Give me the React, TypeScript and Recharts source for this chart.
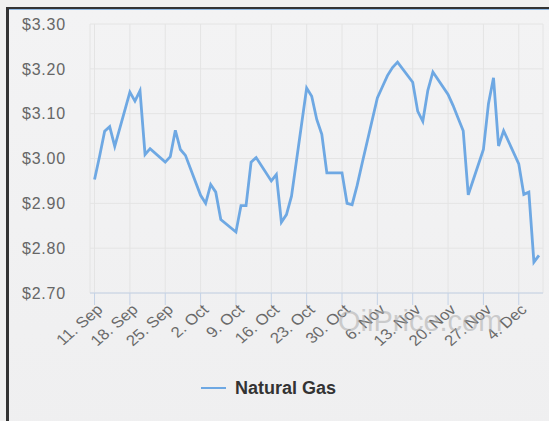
import React from 'react';
import { LineChart, Line, XAxis, YAxis, CartesianGrid, Legend } from 'recharts';

const dates: string[] = [
  '2017-09-11', '2017-09-12', '2017-09-13', '2017-09-14', '2017-09-15',
  '2017-09-18', '2017-09-19', '2017-09-20', '2017-09-21', '2017-09-22',
  '2017-09-25', '2017-09-26', '2017-09-27', '2017-09-28', '2017-09-29',
  '2017-10-02', '2017-10-03', '2017-10-04', '2017-10-05', '2017-10-06',
  '2017-10-09', '2017-10-10', '2017-10-11', '2017-10-12', '2017-10-13',
  '2017-10-16', '2017-10-17', '2017-10-18', '2017-10-19', '2017-10-20',
  '2017-10-23', '2017-10-24', '2017-10-25', '2017-10-26', '2017-10-27',
  '2017-10-30', '2017-10-31', '2017-11-01', '2017-11-02', '2017-11-03',
  '2017-11-06', '2017-11-07', '2017-11-08', '2017-11-09', '2017-11-10',
  '2017-11-13', '2017-11-14', '2017-11-15', '2017-11-16', '2017-11-17',
  '2017-11-20', '2017-11-21', '2017-11-22', '2017-11-23', '2017-11-24',
  '2017-11-27', '2017-11-28', '2017-11-29', '2017-11-30', '2017-12-01',
  '2017-12-04', '2017-12-05', '2017-12-06', '2017-12-07', '2017-12-08',
];

const naturalGas: number[] = [
  2.953, 3.005, 3.061, 3.071, 3.027,
  3.148, 3.128, 3.151, 3.009, 3.022,
  2.992, 3.004, 3.063, 3.020, 3.007,
  2.918, 2.900, 2.942, 2.925, 2.864,
  2.836, 2.895, 2.895, 2.992, 3.002,
  2.950, 2.964, 2.858, 2.875, 2.916,
  3.157, 3.139, 3.087, 3.054, 2.968,
  2.968, 2.900, 2.897, 2.940, 2.990,
  3.135, 3.160, 3.185, 3.203, 3.215,
  3.170, 3.105, 3.083, 3.152, 3.193,
  3.143, 3.118, 3.090, 3.062, 2.919,
  3.020, 3.122, 3.180, 3.028, 3.062,
  2.988, 2.920, 2.925, 2.769, 2.784,
];

const tickDates: string[] = [
  '2017-09-11', '2017-09-18', '2017-09-25', '2017-10-02', '2017-10-09',
  '2017-10-16', '2017-10-23', '2017-10-30', '2017-11-06', '2017-11-13',
  '2017-11-20', '2017-11-27', '2017-12-04',
];
const tickLabels: string[] = [
  '11. Sep', '18. Sep', '25. Sep', '2. Oct', '9. Oct', '16. Oct', '23. Oct',
  '30. Oct', '6. Nov', '13. Nov', '20. Nov', '27. Nov', '4. Dec',
];
const yTicks: number[] = [2.7, 2.8, 2.9, 3.0, 3.1, 3.2, 3.3];

const DAY = 86400000;
const base = Date.parse(tickDates[0] + 'T00:00:00Z');
const toDay = (d: string) => Math.round((Date.parse(d + 'T00:00:00Z') - base) / DAY);

const data = dates.map((d, i) => ({ day: toDay(d), value: naturalGas[i] }));
const xTicks = tickDates.map(toDay);

const FONT = '"Liberation Sans", Arial, sans-serif';

function XTick(props: any) {
  const { x, y, payload } = props;
  const idx = xTicks.indexOf(payload.value);
  return (
    <g transform={`translate(${x + 5},${y})`}>
      <text textAnchor="end" transform="scale(1.12,1) rotate(-44)" fill="#6a6a6a" fontSize={15} fontFamily={FONT} dy="0.35em">
        {idx >= 0 ? tickLabels[idx] : ''}
      </text>
    </g>
  );
}

function LegendContent() {
  return (
    <div style={{ position: 'relative', height: 40, width: 549 }}>
      <div style={{ position: 'absolute', left: 201, top: 19, width: 25, height: 2, background: '#6ea8e3' }} />
      <div style={{ position: 'absolute', left: 235, top: 9, fontFamily: FONT, fontWeight: 'bold', fontSize: 18, color: '#333333', lineHeight: '22px' }}>
        Natural Gas
      </div>
    </div>
  );
}

export default function App() {
  return (
    <div style={{ position: 'absolute', left: 0, top: 0, width: 549, height: 421, background: '#f0f0f0', overflow: 'hidden' }}>
      <div style={{ position: 'absolute', left: 6, top: 7, width: 560, height: 430, borderLeft: '3px solid #333', borderTop: '2px solid #333', background: 'linear-gradient(#f3f3f4, #efeff0)' }}>
        <div style={{ height: 1, background: '#8db6e0' }} />
      </div>
      <div style={{ position: 'absolute', left: 0, top: 0 }}>
        <LineChart width={549} height={421} data={data} margin={{ top: 24, right: 6, bottom: 13, left: 0 }}>
          <CartesianGrid stroke="#e4e4e4" strokeWidth={1} />
          <XAxis
            dataKey="day"
            type="number"
            domain={[-0.9, 88.8]}
            ticks={xTicks}
            interval={0}
            height={75}
            tickSize={12}
            axisLine={{ stroke: '#c4d2e6' }}
            tickLine={{ stroke: '#c4d2e6' }}
            tick={<XTick />}
            allowDataOverflow
          />
          <YAxis
            type="number"
            domain={[2.7, 3.3]}
            ticks={yTicks}
            width={90}
            axisLine={false}
            tickLine={false}
            tickSize={0}
            tickMargin={24}
            tickFormatter={(v: number) => `$${v.toFixed(2)}`}
            tick={{ fill: '#666666', fontSize: 16, fontFamily: FONT, letterSpacing: 0.8 }}
          />
          <Legend verticalAlign="bottom" height={40} content={<LegendContent />} />
          <Line type="linear" dataKey="value" name="Natural Gas" stroke="#6ea8e3" strokeWidth={2.8} dot={false} isAnimationActive={false} />
        </LineChart>
      </div>
      <div style={{ position: 'absolute', left: 338, top: 305, fontFamily: FONT, fontSize: 29, color: 'rgba(170,170,170,0.55)', pointerEvents: 'none', whiteSpace: 'nowrap' }}>
        OilPrice.com
      </div>
    </div>
  );
}
